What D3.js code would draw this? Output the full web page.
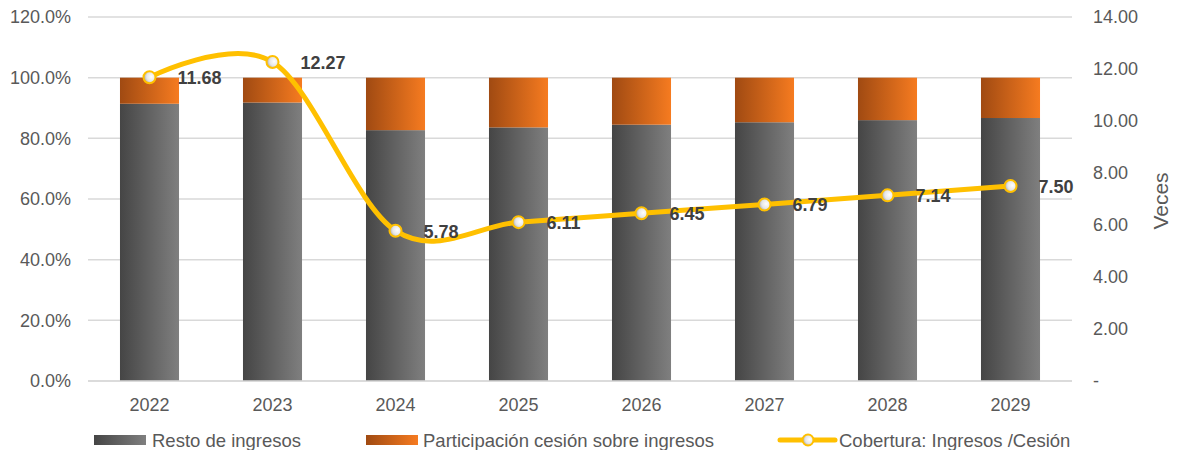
<!DOCTYPE html>
<html>
<head>
<meta charset="utf-8">
<script src="https://cdn.jsdelivr.net/npm/d3@7"></script>
<style>
  body { margin: 0; background: #fff; }
  svg { font-family: "Liberation Sans", Arial, sans-serif; }
</style>
</head>
<body>
<div id="chart"></div>
<script>
// data
var years = ["2022", "2023", "2024", "2025", "2026", "2027", "2028", "2029"];
var resto = [91.4, 91.8, 82.7, 83.6, 84.5, 85.3, 86.0, 86.7];        // % Resto de ingresos
var cesion = [8.6, 8.2, 17.3, 16.4, 15.5, 14.7, 14.0, 13.3];         // % Participación cesión
var cobertura = [11.68, 12.27, 5.78, 6.11, 6.45, 6.79, 7.14, 7.50];  // veces
var leftTicks = [0, 20, 40, 60, 80, 100, 120];
var rightTicks = [0, 2, 4, 6, 8, 10, 12, 14];

var W = 1179, H = 450;
var mLeft = 88, mRight = 1072, mTop = 17, mBottom = 381;

var svg = d3.select("#chart").append("svg")
    .attr("width", W)
    .attr("height", H);

var defs = svg.append("defs");

function hGrad(id, c0, c1) {
    var g = defs.append("linearGradient").attr("id", id)
        .attr("x1", "0%").attr("x2", "100%").attr("y1", "0%").attr("y2", "0%");
    g.append("stop").attr("offset", "0%").attr("stop-color", c0);
    g.append("stop").attr("offset", "100%").attr("stop-color", c1);
}
hGrad("gGray", "#454545", "#7f7f7f");
hGrad("gOrange", "#a04a12", "#f67b20");

var rg = defs.append("radialGradient").attr("id", "gMark")
    .attr("cx", "65%").attr("cy", "45%").attr("r", "70%");
rg.append("stop").attr("offset", "0%").attr("stop-color", "#ffffff");
rg.append("stop").attr("offset", "55%").attr("stop-color", "#e6e6e6");
rg.append("stop").attr("offset", "100%").attr("stop-color", "#9a9a9a");

var x = d3.scaleBand()
    .domain(years)
    .range([mLeft, mRight])
    .paddingInner(0.52)
    .paddingOuter(0.26);

var yL = d3.scaleLinear().domain([0, 120]).range([mBottom, mTop]);
var yR = d3.scaleLinear().domain([0, 14]).range([mBottom, mTop]);

// gridlines
svg.append("g").selectAll("line")
    .data(leftTicks)
    .enter().append("line")
    .attr("x1", mLeft).attr("x2", mRight)
    .attr("y1", function(d) { return yL(d); })
    .attr("y2", function(d) { return yL(d); })
    .attr("stroke", "#d9d9d9")
    .attr("stroke-width", 1.5);

// left axis
var axL = svg.append("g")
    .attr("transform", "translate(" + (mLeft - 17) + ",0)")
    .call(d3.axisLeft(yL).tickValues(leftTicks).tickSize(0).tickPadding(0)
        .tickFormat(function(d) { return d.toFixed(1) + "%"; }));
axL.select(".domain").remove();
axL.selectAll("text").attr("fill", "#595959").style("font-size", "18px");

// right axis
var axR = svg.append("g")
    .attr("transform", "translate(" + (mRight + 21) + ",0)")
    .call(d3.axisRight(yR).tickValues(rightTicks).tickSize(0).tickPadding(0)
        .tickFormat(function(d) { return d === 0 ? "-" : d.toFixed(2); }));
axR.select(".domain").remove();
axR.selectAll("text").attr("fill", "#595959").style("font-size", "18px");

svg.append("text")
    .attr("transform", "translate(1168,201) rotate(-90)")
    .attr("text-anchor", "middle")
    .attr("fill", "#595959")
    .style("font-size", "21px")
    .text("Veces");

// x axis labels
var axX = svg.append("g")
    .attr("transform", "translate(0," + (mBottom + 17) + ")")
    .call(d3.axisBottom(x).tickSize(0).tickPadding(0));
axX.select(".domain").remove();
axX.selectAll("text").attr("fill", "#595959").style("font-size", "18px");

// stacked bars
svg.append("g").selectAll("rect")
    .data(years)
    .enter().append("rect")
    .attr("x", function(d) { return x(d); })
    .attr("width", x.bandwidth())
    .attr("y", function(d, i) { return yL(resto[i]); })
    .attr("height", function(d, i) { return yL(0) - yL(resto[i]); })
    .attr("fill", "url(#gGray)");

svg.append("g").selectAll("rect")
    .data(years)
    .enter().append("rect")
    .attr("x", function(d) { return x(d); })
    .attr("width", x.bandwidth())
    .attr("y", function(d, i) { return yL(resto[i] + cesion[i]); })
    .attr("height", function(d, i) { return yL(resto[i]) - yL(resto[i] + cesion[i]); })
    .attr("fill", "url(#gOrange)");

// baseline
svg.append("line")
    .attr("x1", mLeft).attr("x2", mRight)
    .attr("y1", yL(0)).attr("y2", yL(0))
    .attr("stroke", "#d9d9d9").attr("stroke-width", 1.5);

// coverage line
var cx = function(d, i) { return x(years[i]) + x.bandwidth() / 2; };
var line = d3.line()
    .x(cx)
    .y(function(d) { return yR(d); })
    .curve(d3.curveCardinal.tension(0));

svg.append("path")
    .datum(cobertura)
    .attr("d", line)
    .attr("fill", "none")
    .attr("stroke", "#ffc000")
    .attr("stroke-width", 5)
    .attr("stroke-linecap", "round");

svg.append("g").selectAll("circle")
    .data(cobertura)
    .enter().append("circle")
    .attr("cx", cx)
    .attr("cy", function(d) { return yR(d); })
    .attr("r", 6)
    .attr("fill", "url(#gMark)")
    .attr("stroke", "#ffc000")
    .attr("stroke-width", 2);

svg.append("g").selectAll("text")
    .data(cobertura)
    .enter().append("text")
    .attr("x", function(d, i) { return cx(d, i) + 28; })
    .attr("y", function(d) { return yR(d) + 7; })
    .attr("fill", "#404040")
    .style("font-size", "18px")
    .style("font-weight", "bold")
    .text(function(d) { return d.toFixed(2); });

// legend
var lg = svg.append("g").attr("transform", "translate(0,440)");
lg.append("rect").attr("x", 94).attr("y", -5).attr("width", 52).attr("height", 10).attr("fill", "url(#gGray)");
lg.append("text").attr("x", 152).attr("y", 6.5).attr("fill", "#595959").style("font-size", "18.5px").text("Resto de ingresos");
lg.append("rect").attr("x", 366).attr("y", -5).attr("width", 52).attr("height", 10).attr("fill", "url(#gOrange)");
lg.append("text").attr("x", 423).attr("y", 6.5).attr("fill", "#595959").style("font-size", "18.5px").text("Participación cesión sobre ingresos");
lg.append("line").attr("x1", 780).attr("x2", 835).attr("y1", 0).attr("y2", 0)
    .attr("stroke", "#ffc000").attr("stroke-width", 5).attr("stroke-linecap", "round");
lg.append("circle").attr("cx", 808).attr("cy", 0).attr("r", 5.5)
    .attr("fill", "url(#gMark)").attr("stroke", "#ffc000").attr("stroke-width", 2);
lg.append("text").attr("x", 839).attr("y", 6.5).attr("fill", "#595959").style("font-size", "18.5px").text("Cobertura: Ingresos /Cesión");
</script>
</body>
</html>
